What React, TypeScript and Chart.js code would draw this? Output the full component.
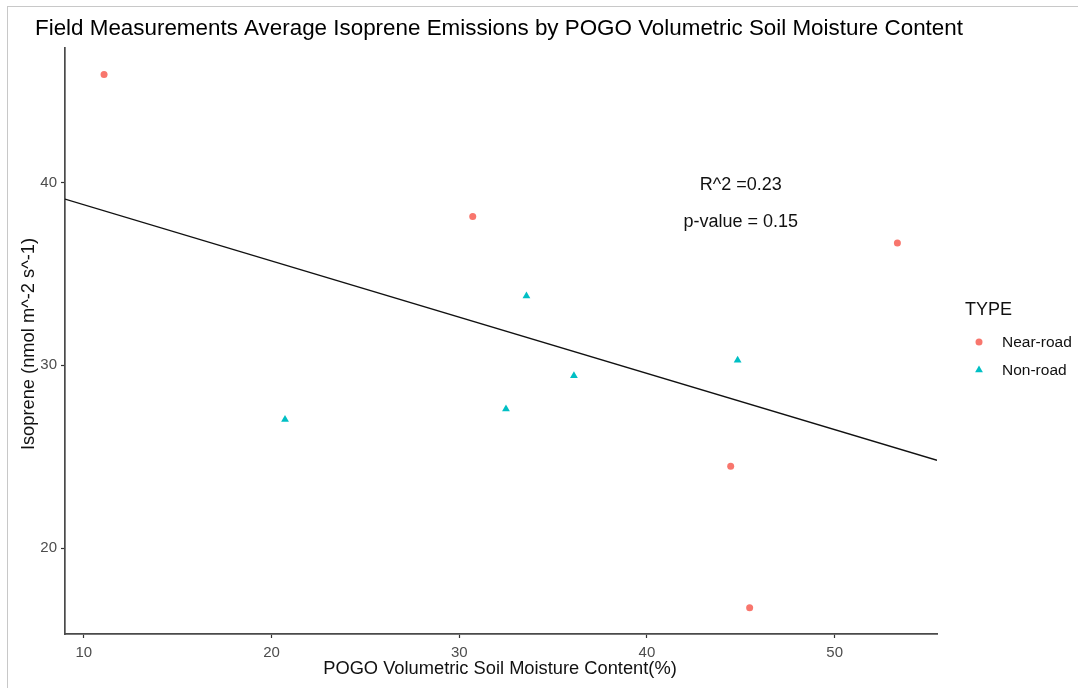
import React, { useEffect, useRef } from "react";
import { Chart, registerables } from "chart.js";

Chart.register(...registerables);

// Soil moisture (%) and isoprene emission for each site type
const nearRoadMoisture = [11.08, 30.72, 53.34, 44.46, 45.47];
const nearRoadIsoprene = [45.9, 38.14, 36.68, 24.48, 16.74];
const nonRoadMoisture = [20.72, 33.58, 36.11, 32.49, 44.83];
const nonRoadIsoprene = [27.03, 33.79, 29.42, 27.6, 30.27];

const xTicks = [10, 20, 30, 40, 50];
const yTicks = [20, 30, 40];

const X_MIN = 9.0;
const X_MAX = 55.45;
const Y_MIN = 15.3;
const Y_MAX = 47.35;

const statLines = ["R^2 =0.23", "p-value = 0.15"];
const statX = 45;
const statY = [40, 38];

const FONT = '"Liberation Sans", Arial, sans-serif';
const RED = "#F8766D";
const CYAN = "#00BFC4";

// Ordinary least squares over all sites
function fitLine(xs: number[], ys: number[]) {
  const n = xs.length;
  const mx = xs.reduce((a, b) => a + b, 0) / n;
  const my = ys.reduce((a, b) => a + b, 0) / n;
  let sxy = 0;
  let sxx = 0;
  for (let i = 0; i < n; i++) {
    sxy += (xs[i] - mx) * (ys[i] - my);
    sxx += (xs[i] - mx) * (xs[i] - mx);
  }
  const slope = sxy / sxx;
  return { slope, intercept: my - slope * mx };
}

const decorations = {
  id: "decorations",
  afterDraw(chart: any) {
    const ctx = chart.ctx;
    const xs = chart.scales.x;
    const ys = chart.scales.y;
    ctx.save();

    // title
    ctx.fillStyle = "#000";
    ctx.font = `22.4px ${FONT}`;
    ctx.textAlign = "left";
    ctx.textBaseline = "alphabetic";
    ctx.fillText(
      "Field Measurements Average Isoprene Emissions by POGO Volumetric Soil Moisture Content",
      35,
      35
    );

    // axis titles
    ctx.font = `18.3px ${FONT}`;
    ctx.textAlign = "center";
    ctx.textBaseline = "middle";
    ctx.fillStyle = "#111";
    ctx.fillText("POGO Volumetric Soil Moisture Content(%)", 500, 669);
    ctx.save();
    ctx.translate(29, 344);
    ctx.rotate(-Math.PI / 2);
    ctx.fillText("Isoprene (nmol m^-2 s^-1)", 0, 0);
    ctx.restore();

    // regression statistics
    ctx.font = `18px ${FONT}`;
    statLines.forEach((t, i) => {
      ctx.fillText(t, xs.getPixelForValue(statX), ys.getPixelForValue(statY[i]) + 3);
    });

    // legend
    ctx.fillStyle = "#111";
    ctx.textAlign = "left";
    ctx.font = `18px ${FONT}`;
    ctx.fillText("TYPE", 965, 310);
    ctx.font = `15.5px ${FONT}`;
    ctx.fillText("Near-road", 1002, 343);
    ctx.fillText("Non-road", 1002, 371);

    ctx.fillStyle = RED;
    ctx.beginPath();
    ctx.arc(979, 342, 3.5, 0, Math.PI * 2);
    ctx.fill();

    ctx.fillStyle = CYAN;
    const r = 4.5;
    const cx = 979;
    const cy = 370;
    ctx.beginPath();
    ctx.moveTo(cx, cy - r);
    ctx.lineTo(cx + r * Math.sin((2 * Math.PI) / 3), cy - r * Math.cos((2 * Math.PI) / 3));
    ctx.lineTo(cx + r * Math.sin((4 * Math.PI) / 3), cy - r * Math.cos((4 * Math.PI) / 3));
    ctx.closePath();
    ctx.fill();

    ctx.restore();
  },
};

export default function App() {
  const canvasRef = useRef<HTMLCanvasElement | null>(null);

  useEffect(() => {
    document.body.style.margin = "0";
    const canvas = canvasRef.current;
    if (!canvas) return;

    const allX = [...nearRoadMoisture, ...nonRoadMoisture];
    const allY = [...nearRoadIsoprene, ...nonRoadIsoprene];
    const { slope, intercept } = fitLine(allX, allY);

    const chart = new Chart(canvas, {
      type: "scatter",
      data: {
        datasets: [
          {
            label: "Near-road",
            data: nearRoadMoisture.map((x, i) => ({ x, y: nearRoadIsoprene[i] })),
            backgroundColor: RED,
            borderWidth: 0,
            pointStyle: "circle",
            pointRadius: 3.5,
          },
          {
            label: "Non-road",
            data: nonRoadMoisture.map((x, i) => ({ x, y: nonRoadIsoprene[i] })),
            backgroundColor: CYAN,
            borderWidth: 0,
            pointStyle: "triangle",
            pointRadius: 4.5,
          },
          {
            type: "line",
            label: "fit",
            data: [
              { x: X_MIN, y: intercept + slope * X_MIN },
              { x: X_MAX, y: intercept + slope * X_MAX },
            ],
            borderColor: "#111",
            borderWidth: 1.3,
            pointRadius: 0,
            fill: false,
          } as any,
        ],
      },
      options: {
        responsive: false,
        animation: false,
        events: [],
        layout: { padding: { left: 0, top: 48, right: 141, bottom: 0 } },
        plugins: {
          legend: { display: false },
          title: { display: false },
          tooltip: { enabled: false },
        },
        scales: {
          x: {
            type: "linear",
            min: X_MIN,
            max: X_MAX,
            afterBuildTicks: (s: any) => {
              s.ticks = xTicks.map((v) => ({ value: v }));
            },
            afterFit: (s: any) => {
              s.height = 54;
            },
            grid: {
              drawOnChartArea: false,
              drawTicks: true,
              tickLength: 4,
              tickColor: "#333",
              tickWidth: 1.2,
            },
            border: { display: true, color: "#4a4a4a", width: 1.7 },
            ticks: {
              color: "#4D4D4D",
              font: { family: FONT, size: 15 },
              padding: 6,
              maxRotation: 0,
            },
          },
          y: {
            type: "linear",
            min: Y_MIN,
            max: Y_MAX,
            afterBuildTicks: (s: any) => {
              s.ticks = yTicks.map((v) => ({ value: v }));
            },
            afterFit: (s: any) => {
              s.width = 65;
            },
            grid: {
              drawOnChartArea: false,
              drawTicks: true,
              tickLength: 4,
              tickColor: "#333",
              tickWidth: 1.2,
            },
            border: { display: true, color: "#4a4a4a", width: 1.7 },
            ticks: {
              color: "#4D4D4D",
              font: { family: FONT, size: 15 },
              padding: 4,
            },
          },
        },
      },
      plugins: [decorations],
    });

    return () => chart.destroy();
  }, []);

  return (
    <div style={{ position: "relative", width: 1078, height: 688, background: "#fff" }}>
      <canvas ref={canvasRef} width={1078} height={688} style={{ display: "block" }} />
      <div
        style={{
          position: "absolute",
          left: 7,
          top: 6,
          width: 1071,
          height: 682,
          borderTop: "1px solid #c8c8c8",
          borderLeft: "1px solid #c8c8c8",
          boxSizing: "border-box",
          pointerEvents: "none",
        }}
      />
    </div>
  );
}
